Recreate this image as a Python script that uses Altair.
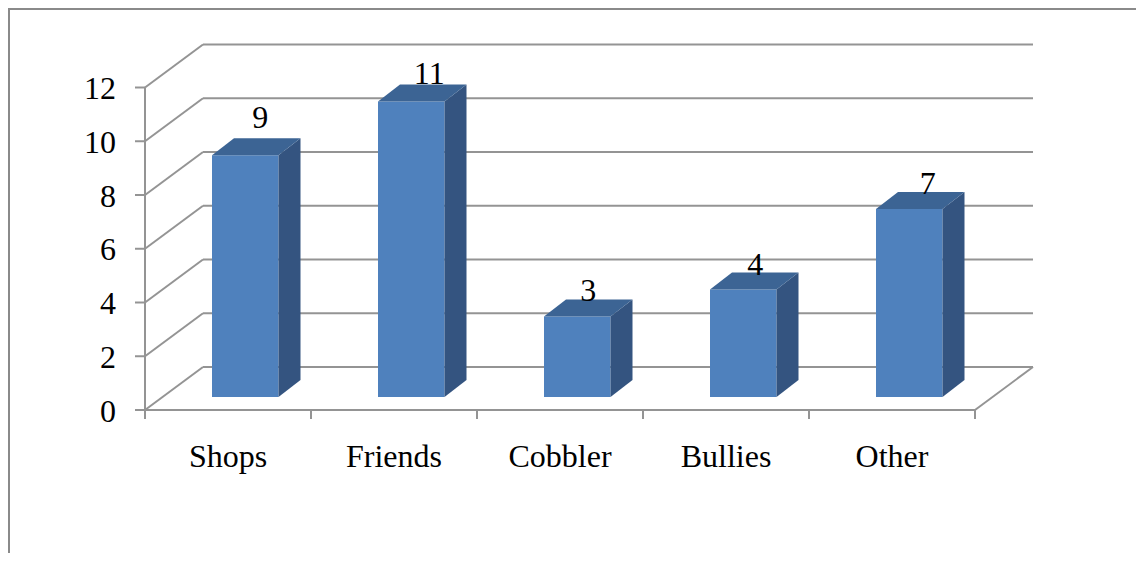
import altair as alt
import pandas as pd

categories = ["Shops", "Friends", "Cobbler", "Bullies", "Other"]
values = [9, 11, 3, 4, 7]
y_ticks = [0, 2, 4, 6, 8, 10, 12]

# One category = 166 px, one value unit = 26.875 px
UX, UY = 166.0, 26.875
X0, Y0 = 145.0, 410.0          # page position of the front-left origin
W, H = 1128, 545
WALL_DX, WALL_DY = 58 / UX, 43 / UY
BAR_DX, BAR_DY = 22 / UX, 17 / UY
BAR_LEFT, BAR_W = 67 / UX, 66.5 / UX
BASE = 13 / UY
N = len(categories)

xs = alt.Scale(domain=[(8 - X0) / UX, (8 + W - X0) / UX], nice=False, zero=False)
ys = alt.Scale(domain=[(Y0 - 8 - H) / UY, (Y0 - 8) / UY], nice=False, zero=False)
X = lambda f: alt.X(f, type="quantitative", scale=xs, axis=None)
Y = lambda f: alt.Y(f, type="quantitative", scale=ys, axis=None)
X2 = lambda f: alt.X2(f)
Y2 = lambda f: alt.Y2(f)

GRID = "#949494"

# segments of the frame
seg = []
for v in y_ticks:
    seg.append(dict(x=0, y=v, x2=WALL_DX, y2=v + WALL_DY))
    seg.append(dict(x=WALL_DX, y=v + WALL_DY, x2=N + WALL_DX, y2=v + WALL_DY))
    seg.append(dict(x=-10 / UX, y=v, x2=0, y2=v))
seg.append(dict(x=0, y=0, x2=0, y2=y_ticks[-1]))
seg.append(dict(x=N, y=0, x2=N + WALL_DX, y2=WALL_DY))
seg.append(dict(x=0, y=0, x2=N, y2=0))
for i in range(N + 1):
    seg.append(dict(x=i, y=0, x2=i, y2=-9 / UY))
frame = alt.Chart(pd.DataFrame(seg)).mark_rule(color=GRID, strokeWidth=2).encode(
    x=X("x"), y=Y("y"), x2=X2("x2"), y2=Y2("y2"))

# outer border of the picture
xmin, xmax = xs.domain
ymin, ymax = ys.domain
inset_x, inset_y = 1 / UX, 1 / UY
border_df = pd.DataFrame([
    dict(x=xmin + inset_x, y=ymin, x2=xmin + inset_x, y2=ymax),
    dict(x=xmin, y=ymax - inset_y, x2=xmax, y2=ymax - inset_y),
])
border = alt.Chart(border_df).mark_rule(color="#8a8a8a", strokeWidth=2).encode(
    x=X("x"), y=Y("y"), x2=X2("x2"), y2=Y2("y2"))

# bars
front_rows, side_rows, top_rows = [], [], []
for i, (c, v) in enumerate(zip(categories, values)):
    l = i + BAR_LEFT
    r = l + BAR_W
    front_rows.append(dict(cat=c, x=l, x2=r, y=BASE, y2=BASE + v))
    side_rows.append(dict(cat=c, x=r, y=BASE, y2=BASE + v))
    side_rows.append(dict(cat=c, x=r + BAR_DX, y=BASE + BAR_DY, y2=BASE + v + BAR_DY))
    top_rows.append(dict(cat=c, x=l, x2=r, y=BASE + v))
    top_rows.append(dict(cat=c, x=l + BAR_DX, x2=r + BAR_DX, y=BASE + v + BAR_DY))

front = alt.Chart(pd.DataFrame(front_rows)).mark_rect(color="#4F81BD").encode(
    x=X("x"), x2=X2("x2"), y=Y("y"), y2=Y2("y2"))
side = alt.Chart(pd.DataFrame(side_rows)).mark_area(color="#345480", opacity=1).encode(
    x=X("x"), y=Y("y"), y2=Y2("y2"), detail="cat:N")
top = alt.Chart(pd.DataFrame(top_rows)).mark_area(color="#3C6494", opacity=1, orient="horizontal").encode(
    y=Y("y"), x=X("x"), x2=X2("x2"), detail="cat:N")

SERIF = "Liberation Serif"
FS = 32

ylab = alt.Chart(pd.DataFrame({"v": y_ticks, "x": [-29 / UX] * len(y_ticks)})).mark_text(
    font=SERIF, fontSize=FS, align="right", baseline="alphabetic", dy=11.5, color="#000000"
).encode(x=X("x"), y=Y("v"), text=alt.Text("v:Q"))

xlab = alt.Chart(pd.DataFrame({
    "c": categories,
    "x": [i + 0.5 for i in range(N)],
    "y": [(Y0 - 467) / UY] * N,
})).mark_text(font=SERIF, fontSize=FS, align="center", baseline="alphabetic", color="#000000").encode(
    x=X("x"), y=Y("y"), text="c:N")

# data labels, each nudged as in the picture
nudges = {"Shops": (15, -10), "Friends": (18, 0), "Cobbler": (11, 2), "Bullies": (12, 2), "Other": (18.5, 2)}
value_labels = []
for i, (c, v) in enumerate(zip(categories, values)):
    dx, dy = nudges[c]
    d = pd.DataFrame({"x": [i + BAR_LEFT + BAR_W / 2], "y": [BASE + v + BAR_DY], "t": [v]})
    value_labels.append(
        alt.Chart(d).mark_text(font=SERIF, fontSize=FS, align="center", baseline="alphabetic",
                               dx=dx, dy=dy, color="#000000").encode(
            x=X("x"), y=Y("y"), text=alt.Text("t:Q"))
    )

chart = alt.layer(border, frame, front, side, top, ylab, xlab, *value_labels).properties(
    width=W, height=H, padding=0, autosize=alt.AutoSizeParams(type="none"),
    background="#ffffff"
).configure_view(stroke=None)

chart.save("out.html", embed_options={"renderer": "svg", "actions": False})
